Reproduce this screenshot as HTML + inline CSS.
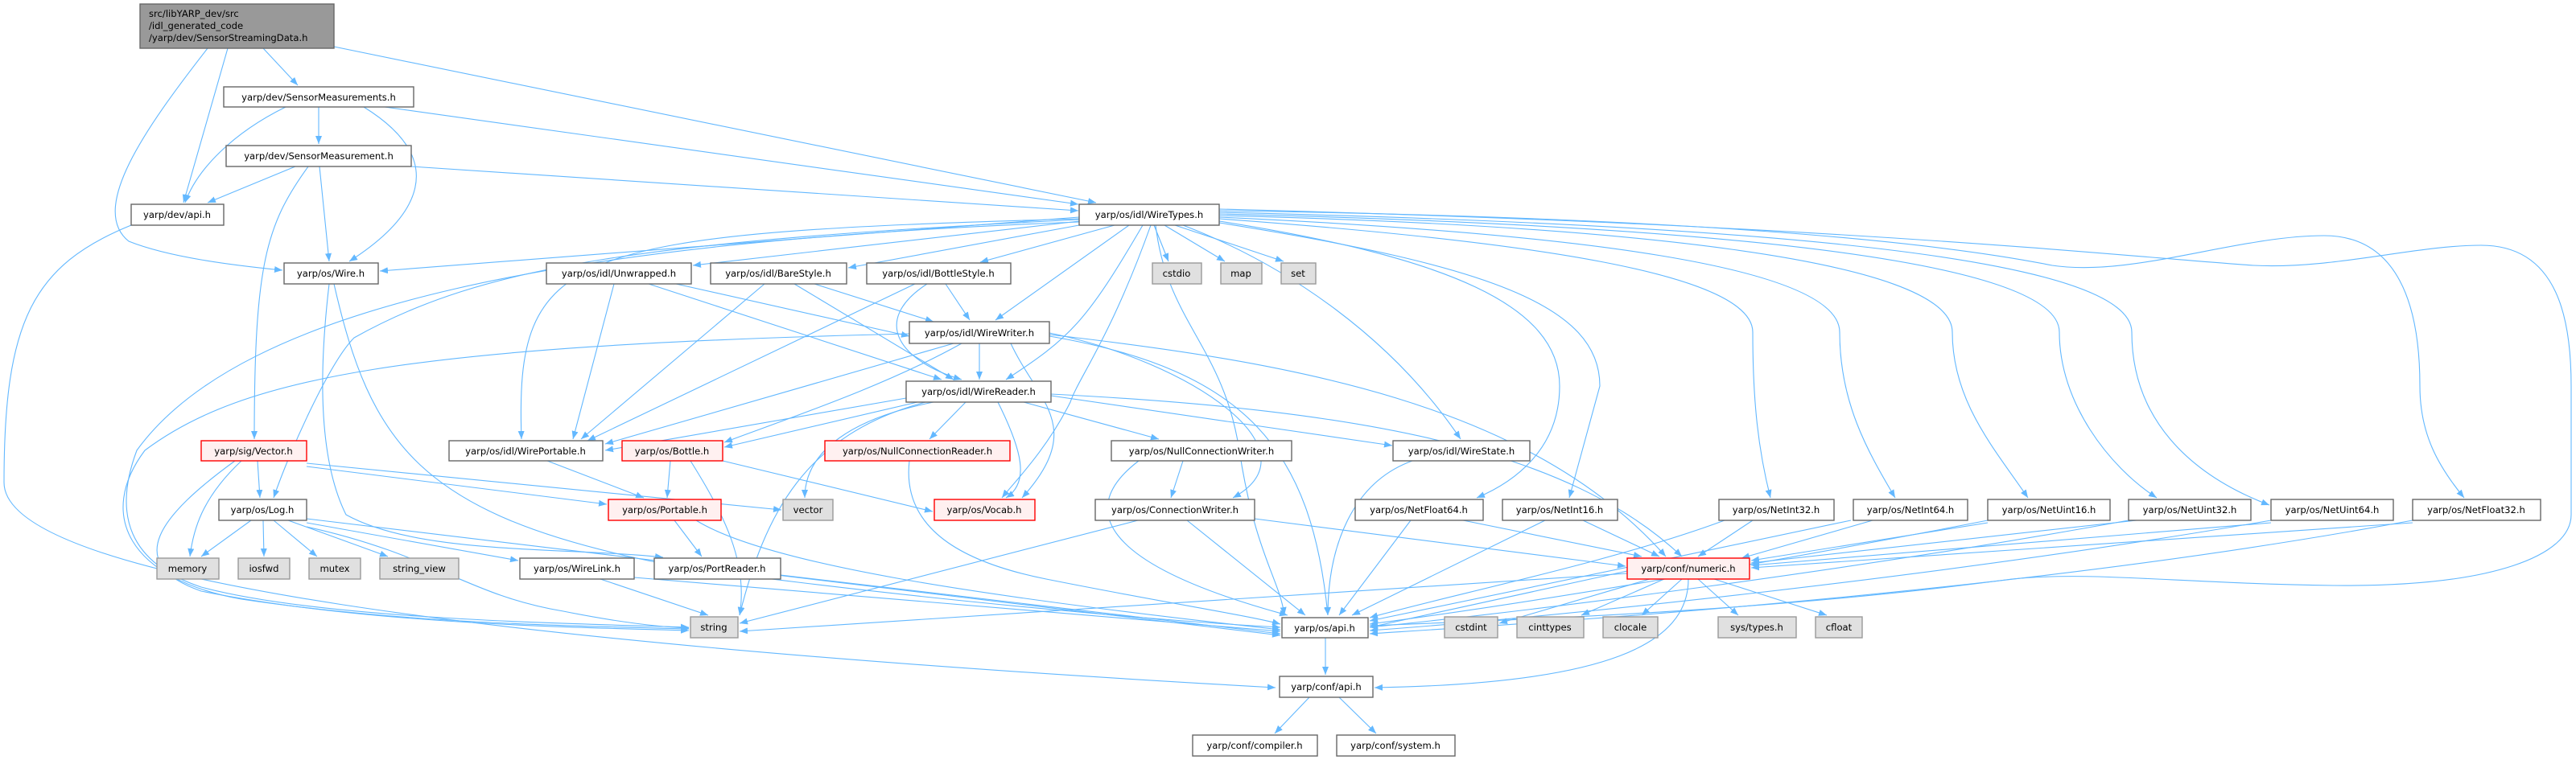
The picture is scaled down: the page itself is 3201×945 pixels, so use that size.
<!DOCTYPE html>
<html><head><meta charset="utf-8">
<style>
html,body{margin:0;padding:0;background:#fff;}
svg{display:block;}
text{font-family:"DejaVu Sans","Liberation Sans",sans-serif;font-size:11.6px;fill:#000;}
.n{fill:#fff;stroke:#666;stroke-width:1.4;}
.g{fill:#e0e0e0;stroke:#999;stroke-width:1.4;}
.r{fill:#fff0f0;stroke:#f00;stroke-width:1.4;}
.m{fill:#999;stroke:#666;stroke-width:1.4;}
path{fill:none;stroke:#63b8ff;stroke-width:1.1;marker-end:url(#a);}
</style></head><body>
<svg width="3201" height="945" viewBox="0 0 3201 945" xmlns="http://www.w3.org/2000/svg">
<defs><marker id="a" markerUnits="userSpaceOnUse" markerWidth="12" markerHeight="10" refX="10" refY="4" orient="auto"><polygon points="0,0 10,4 0,8" fill="#63b8ff"/></marker></defs>
<!-- edges -->
<g>
<!-- main -->
<path d="M327,60 L370,106"/>
<path d="M283,60 L228,252"/>
<path d="M258,60 C180,160 110,260 160,300 C210,320 290,330 351,336"/>
<path d="M415,58 L1362,252"/>
<!-- SensorMeasurements -->
<path d="M355,133 C290,165 245,210 230,252"/>
<path d="M396,133 L396,179"/>
<path d="M452,133 C560,200 520,270 434,325"/>
<path d="M478,133 L1340,254"/>
<!-- SensorMeasurement -->
<path d="M367,207 L258,252"/>
<path d="M383,207 C330,280 316,330 316,546"/>
<path d="M397,207 L409,325"/>
<path d="M511,207 L1340,262"/>
<!-- dev/api -->
<path d="M163,280 C40,330 5,400 5,600 C5,720 600,800 1585,855"/>
<!-- Wire.h -->
<path d="M409,353 C400,430 390,560 430,640 C520,690 700,680 824,693"/>
<path d="M415,353 C460,550 520,640 820,700 C1000,730 1400,770 1591,780"/>
<!-- WireTypes -->
<path d="M1341,270 L472,337"/>
<path d="M1341,275 L861,330"/>
<path d="M1341,280 L1054,333"/>
<path d="M1385,280 L1218,326"/>
<path d="M1434,280 L1452,325"/>
<path d="M1447,280 L1522,325"/>
<path d="M1460,280 L1595,325"/>
<path d="M1403,280 L1237,398"/>
<path d="M1420,280 C1350,400 1330,420 1250,472"/>
<path d="M1341,272 C700,290 640,310 648,546"/>
<path d="M1341,273 C800,300 600,330 440,420 C410,450 360,560 340,619"/>
<path d="M1341,276 C700,300 300,380 170,560 C140,640 160,700 250,730 C400,770 700,775 856,780"/>
<path d="M1430,280 C1380,420 1340,470 1330,500 C1300,560 1260,600 1245,619"/>
<path d="M1436,280 C1450,400 1520,430 1540,560 C1560,690 1590,720 1596,765"/>
<path d="M1470,280 C1600,330 1730,420 1815,546"/>
<path d="M1515,275 C1800,320 1938,380 1938,480 C1938,560 1880,600 1835,619"/>
<path d="M1515,277 C1850,330 1988,380 1988,480 L1950,619"/>
<path d="M1515,272 C1900,300 2178,340 2178,413 C2178,500 2185,560 2200,619"/>
<path d="M1515,270 C1950,290 2286,330 2286,413 C2286,500 2320,560 2355,619"/>
<path d="M1515,268 C2000,280 2426,320 2426,413 C2426,500 2480,560 2520,619"/>
<path d="M1515,266 C2100,280 2559,320 2559,413 C2559,500 2620,580 2680,619"/>
<path d="M1515,264 C2200,280 2649,320 2649,413 C2649,520 2720,590 2820,628"/>
<path d="M1515,262 C2100,270 2400,300 2550,330 C2650,345 2780,293 2888,293 C2980,293 3007,380 3007,480 C3007,540 3030,580 3062,619"/>
<path d="M1515,260 C2300,280 2650,320 2800,330 C2900,335 3000,305 3083,305 C3180,305 3195,400 3195,480 L3195,640 C3195,690 3100,730 2900,728 C2700,725 2600,710 2500,720 C2200,760 1900,770 1702,778"/>
<!-- Unwrapped / BareStyle / BottleStyle -->
<path d="M763,353 L712,546"/>
<path d="M806,353 L1170,472"/>
<path d="M840,353 L1130,418"/>
<path d="M950,353 L722,546"/>
<path d="M987,353 L1185,472"/>
<path d="M1012,353 L1160,400"/>
<path d="M1137,353 L730,548"/>
<path d="M1152,353 C1080,400 1120,450 1195,472"/>
<path d="M1175,353 L1205,398"/>
<!-- WireWriter -->
<path d="M1217,427 L1217,472"/>
<path d="M1185,427 L752,552"/>
<path d="M1195,427 C1100,480 980,520 900,550"/>
<path d="M1130,415 C500,430 300,470 180,560 C120,640 160,720 300,745 C500,775 700,778 856,782"/>
<path d="M1256,427 C1290,500 1350,530 1270,619"/>
<path d="M1304,414 C1480,450 1640,560 1532,619"/>
<path d="M1304,418 C1550,460 1630,560 1650,765"/>
<path d="M1304,416 C1600,450 1900,500 2070,692"/>
<!-- WireReader -->
<path d="M1200,500 L1155,546"/>
<path d="M1240,500 C1270,560 1280,600 1250,619"/>
<path d="M1272,500 L1440,546"/>
<path d="M1306,492 L1730,554"/>
<path d="M1306,490 C1700,510 1950,560 2090,692"/>
<path d="M1126,495 L752,560"/>
<path d="M1140,500 L900,556"/>
<path d="M1160,500 C1060,520 1000,560 1000,619"/>
<path d="M1150,500 C1000,540 950,640 919,765"/>
<!-- level 548 -->
<path d="M320,573 L323,619"/>
<path d="M300,573 C250,620 240,660 236,692"/>
<path d="M292,573 C200,640 150,700 250,735 C450,775 700,780 856,784"/>
<path d="M381,580 L754,627"/>
<path d="M381,576 L971,634"/>
<path d="M680,573 L800,619"/>
<path d="M833,573 L829,619"/>
<path d="M858,573 C900,640 930,700 919,765"/>
<path d="M898,573 L1159,636"/>
<path d="M1130,573 C1120,660 1200,700 1300,720 C1450,750 1550,765 1591,776"/>
<path d="M1470,573 L1455,619"/>
<path d="M1415,573 C1340,630 1360,700 1600,765"/>
<path d="M1755,573 C1680,600 1650,680 1650,765"/>
<!-- Log -->
<path d="M312,647 L250,692"/>
<path d="M327,647 L328,692"/>
<path d="M340,647 L394,692"/>
<path d="M358,647 L482,692"/>
<path d="M381,650 L644,697"/>
<path d="M381,655 C540,690 580,740 700,760 C780,776 830,780 856,781"/>
<path d="M381,645 L1591,790"/>
<!-- Portable -->
<path d="M838,647 L872,692"/>
<path d="M865,647 C950,700 1200,740 1591,783"/>
<!-- ConnectionWriter -->
<path d="M1414,647 L919,775"/>
<path d="M1475,647 L1622,765"/>
<path d="M1559,645 L2020,704"/>
<!-- Net* -->
<path d="M1753,647 L1664,765"/>
<path d="M1818,647 L2040,692"/>
<path d="M1920,647 L1680,765"/>
<path d="M1967,647 L2062,692"/>
<path d="M2143,647 C2000,700 1800,740 1702,768"/>
<path d="M2178,647 L2110,692"/>
<path d="M2300,647 C2100,690 1850,740 1702,772"/>
<path d="M2327,647 L2164,694"/>
<path d="M2470,647 C2200,700 1900,750 1702,776"/>
<path d="M2470,650 L2176,697"/>
<path d="M2645,647 C2300,710 1900,760 1702,780"/>
<path d="M2655,647 L2176,700"/>
<path d="M2822,647 C2400,720 1900,770 1702,784"/>
<path d="M2822,650 L2176,703"/>
<path d="M2998,647 C2500,740 1900,775 1702,788"/>
<path d="M2998,650 L2176,706"/>
<!-- WireLink / PortReader -->
<path d="M746,720 L880,765"/>
<path d="M788,718 L1591,785"/>
<path d="M970,715 L1591,788"/>
<!-- numeric -->
<path d="M2022,710 L1702,780"/>
<path d="M2022,713 L919,785"/>
<path d="M2050,720 L1863,775"/>
<path d="M2068,720 L1965,765"/>
<path d="M2090,720 L2040,765"/>
<path d="M2110,720 L2160,765"/>
<path d="M2130,720 L2270,765"/>
<path d="M2098,720 C2098,800 2000,850 1708,855"/>
<!-- api -->
<path d="M1647,793 L1647,839"/>
<path d="M1627,867 L1584,912"/>
<path d="M1664,867 L1710,912"/>
</g>
<!-- nodes -->
<g>
<rect class="m" x="174" y="5" width="241" height="55"/>
<text x="185" y="21">src/libYARP_dev/src</text><text x="185" y="36">/idl_generated_code</text><text x="185" y="51">/yarp/dev/SensorStreamingData.h</text>
<rect class="n" x="278" y="108" width="236" height="25"/><text x="396" y="125" text-anchor="middle">yarp/dev/SensorMeasurements.h</text>
<rect class="n" x="281" y="181" width="230" height="26"/><text x="396" y="198" text-anchor="middle">yarp/dev/SensorMeasurement.h</text>
<rect class="n" x="163" y="254" width="115" height="26"/><text x="220" y="271" text-anchor="middle">yarp/dev/api.h</text>
<rect class="n" x="1341" y="254" width="174" height="26"/><text x="1428" y="271" text-anchor="middle">yarp/os/idl/WireTypes.h</text>
<rect class="n" x="353" y="327" width="117" height="26"/><text x="411" y="344" text-anchor="middle">yarp/os/Wire.h</text>
<rect class="n" x="679" y="327" width="180" height="26"/><text x="769" y="344" text-anchor="middle">yarp/os/idl/Unwrapped.h</text>
<rect class="n" x="883" y="327" width="169" height="26"/><text x="967" y="344" text-anchor="middle">yarp/os/idl/BareStyle.h</text>
<rect class="n" x="1077" y="327" width="179" height="26"/><text x="1166" y="344" text-anchor="middle">yarp/os/idl/BottleStyle.h</text>
<rect class="g" x="1432" y="327" width="61" height="26"/><text x="1462" y="344" text-anchor="middle">cstdio</text>
<rect class="g" x="1517" y="327" width="51" height="26"/><text x="1542" y="344" text-anchor="middle">map</text>
<rect class="g" x="1592" y="327" width="43" height="26"/><text x="1613" y="344" text-anchor="middle">set</text>
<rect class="n" x="1130" y="400" width="174" height="27"/><text x="1217" y="418" text-anchor="middle">yarp/os/idl/WireWriter.h</text>
<rect class="n" x="1126" y="474" width="180" height="26"/><text x="1216" y="491" text-anchor="middle">yarp/os/idl/WireReader.h</text>
<rect class="r" x="250" y="548" width="131" height="25"/><text x="315" y="565" text-anchor="middle">yarp/sig/Vector.h</text>
<rect class="n" x="558" y="548" width="191" height="25"/><text x="653" y="565" text-anchor="middle">yarp/os/idl/WirePortable.h</text>
<rect class="r" x="773" y="548" width="125" height="25"/><text x="835" y="565" text-anchor="middle">yarp/os/Bottle.h</text>
<rect class="r" x="1025" y="548" width="230" height="25"/><text x="1140" y="565" text-anchor="middle">yarp/os/NullConnectionReader.h</text>
<rect class="n" x="1381" y="548" width="224" height="25"/><text x="1493" y="565" text-anchor="middle">yarp/os/NullConnectionWriter.h</text>
<rect class="n" x="1731" y="548" width="170" height="25"/><text x="1816" y="565" text-anchor="middle">yarp/os/idl/WireState.h</text>
<rect class="n" x="272" y="621" width="109" height="26"/><text x="326" y="638" text-anchor="middle">yarp/os/Log.h</text>
<rect class="r" x="756" y="621" width="140" height="26"/><text x="826" y="638" text-anchor="middle">yarp/os/Portable.h</text>
<rect class="g" x="973" y="621" width="62" height="26"/><text x="1004" y="638" text-anchor="middle">vector</text>
<rect class="r" x="1161" y="621" width="125" height="26"/><text x="1223" y="638" text-anchor="middle">yarp/os/Vocab.h</text>
<rect class="n" x="1361" y="621" width="198" height="26"/><text x="1460" y="638" text-anchor="middle">yarp/os/ConnectionWriter.h</text>
<rect class="n" x="1684" y="621" width="159" height="26"/><text x="1763" y="638" text-anchor="middle">yarp/os/NetFloat64.h</text>
<rect class="n" x="1867" y="621" width="143" height="26"/><text x="1938" y="638" text-anchor="middle">yarp/os/NetInt16.h</text>
<rect class="n" x="2136" y="621" width="143" height="26"/><text x="2207" y="638" text-anchor="middle">yarp/os/NetInt32.h</text>
<rect class="n" x="2303" y="621" width="142" height="26"/><text x="2374" y="638" text-anchor="middle">yarp/os/NetInt64.h</text>
<rect class="n" x="2470" y="621" width="152" height="26"/><text x="2546" y="638" text-anchor="middle">yarp/os/NetUint16.h</text>
<rect class="n" x="2645" y="621" width="152" height="26"/><text x="2721" y="638" text-anchor="middle">yarp/os/NetUint32.h</text>
<rect class="n" x="2822" y="621" width="152" height="26"/><text x="2898" y="638" text-anchor="middle">yarp/os/NetUint64.h</text>
<rect class="n" x="2998" y="621" width="159" height="26"/><text x="3077" y="638" text-anchor="middle">yarp/os/NetFloat32.h</text>
<rect class="g" x="195" y="694" width="77" height="26"/><text x="233" y="711" text-anchor="middle">memory</text>
<rect class="g" x="296" y="694" width="64" height="26"/><text x="328" y="711" text-anchor="middle">iosfwd</text>
<rect class="g" x="384" y="694" width="64" height="26"/><text x="416" y="711" text-anchor="middle">mutex</text>
<rect class="g" x="472" y="694" width="98" height="26"/><text x="521" y="711" text-anchor="middle">string_view</text>
<rect class="n" x="646" y="694" width="142" height="26"/><text x="717" y="711" text-anchor="middle">yarp/os/WireLink.h</text>
<rect class="n" x="813" y="694" width="157" height="26"/><text x="891" y="711" text-anchor="middle">yarp/os/PortReader.h</text>
<rect class="r" x="2022" y="694" width="152" height="26"/><text x="2098" y="711" text-anchor="middle">yarp/conf/numeric.h</text>
<rect class="g" x="858" y="767" width="59" height="26"/><text x="887" y="784" text-anchor="middle">string</text>
<rect class="n" x="1593" y="768" width="107" height="25"/><text x="1646" y="785" text-anchor="middle">yarp/os/api.h</text>
<rect class="g" x="1795" y="767" width="66" height="26"/><text x="1828" y="784" text-anchor="middle">cstdint</text>
<rect class="g" x="1885" y="767" width="83" height="26"/><text x="1926" y="784" text-anchor="middle">cinttypes</text>
<rect class="g" x="1992" y="767" width="68" height="26"/><text x="2026" y="784" text-anchor="middle">clocale</text>
<rect class="g" x="2135" y="767" width="97" height="26"/><text x="2183" y="784" text-anchor="middle">sys/types.h</text>
<rect class="g" x="2256" y="767" width="58" height="26"/><text x="2285" y="784" text-anchor="middle">cfloat</text>
<rect class="n" x="1590" y="841" width="116" height="26"/><text x="1648" y="858" text-anchor="middle">yarp/conf/api.h</text>
<rect class="n" x="1482" y="914" width="155" height="26"/><text x="1559" y="931" text-anchor="middle">yarp/conf/compiler.h</text>
<rect class="n" x="1661" y="914" width="147" height="26"/><text x="1734" y="931" text-anchor="middle">yarp/conf/system.h</text>
</g>
</svg>
</body></html>
